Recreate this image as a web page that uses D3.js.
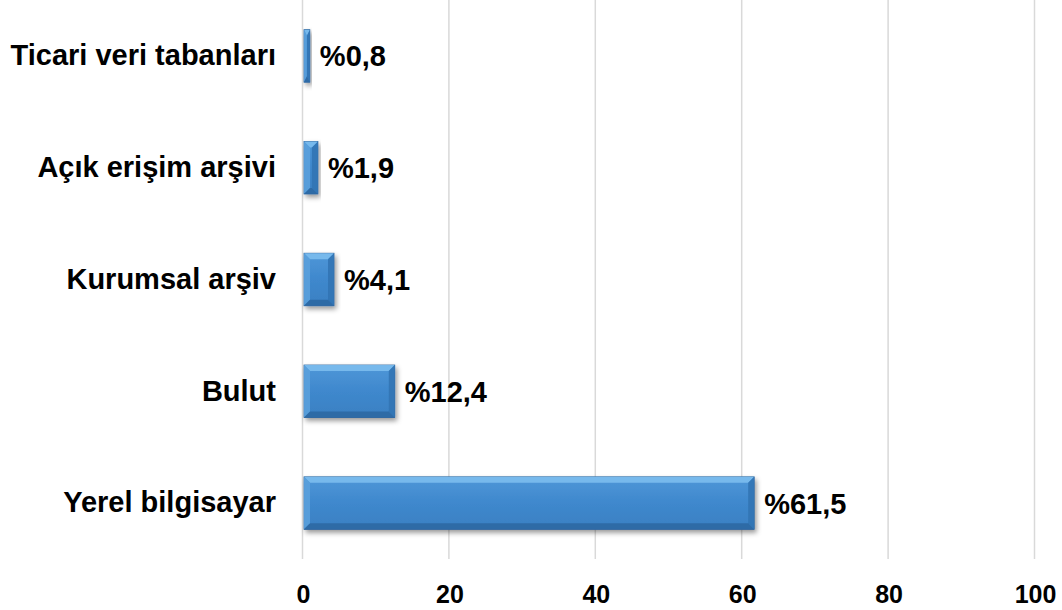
<!DOCTYPE html>
<html>
<head>
<meta charset="utf-8">
<script src="https://cdn.jsdelivr.net/npm/d3@7"></script>
<style>
  body { margin: 0; background: #fff; }
  text { font-family: "Liberation Sans", Arial, sans-serif; font-weight: bold; fill: #000; }
</style>
</head>
<body>
<div id="chart"></div>
<script>
var w = 1062;
var h = 610;

// data, top to bottom
var categories = ["Ticari veri tabanları", "Açık erişim arşivi", "Kurumsal arşiv", "Bulut", "Yerel bilgisayar"];
var values = [0.8, 1.9, 4.1, 12.4, 61.5];
var valueLabels = ["%0,8", "%1,9", "%4,1", "%12,4", "%61,5"];
var ticks = [0, 20, 40, 60, 80, 100];

var margin = { left: 303, right: 27, top: 0, bottom: 51 };

var svg = d3.select("#chart").append("svg")
  .attr("width", w)
  .attr("height", h);

var defs = svg.append("defs");

var grad = defs.append("linearGradient")
  .attr("id", "barGrad")
  .attr("x1", 0).attr("y1", 0).attr("x2", 0).attr("y2", 1);
grad.append("stop").attr("offset", "0%").attr("stop-color", "#4f97d8");
grad.append("stop").attr("offset", "50%").attr("stop-color", "#3f88cd");
grad.append("stop").attr("offset", "100%").attr("stop-color", "#3a80c2");

var shadow = defs.append("filter")
  .attr("id", "shadow")
  .attr("x", "-10%").attr("y", "-20%")
  .attr("width", "130%").attr("height", "160%");
shadow.append("feDropShadow")
  .attr("dx", 2).attr("dy", 3)
  .attr("stdDeviation", 2.5)
  .attr("flood-color", "#000")
  .attr("flood-opacity", 0.4);

var x = d3.scaleLinear()
  .domain([0, 100])
  .range([margin.left, w - margin.right]);

var y = d3.scaleBand()
  .domain(categories)
  .range([margin.top, h - margin.bottom])
  .paddingInner(0.53)
  .paddingOuter(0.265);

// gridlines
svg.append("g")
  .selectAll("line")
  .data(ticks)
  .enter()
  .append("line")
  .attr("x1", function(d) { return x(d) - 0.5; })
  .attr("x2", function(d) { return x(d) - 0.5; })
  .attr("y1", 0)
  .attr("y2", h - margin.bottom)
  .attr("stroke", "#d9d9d9")
  .attr("stroke-width", 1.5);

// x tick labels
var xAxis = d3.axisBottom(x).tickValues(ticks).tickSize(0).tickPadding(0);
var gx = svg.append("g")
  .attr("transform", "translate(0," + (h - 7) + ")")
  .call(xAxis);
gx.select(".domain").remove();
gx.selectAll("text")
  .attr("dy", 0)
  .style("font-size", "25px")
  .style("font-family", "Liberation Sans, Arial, sans-serif")
  .style("font-weight", "bold")
  .attr("fill", "#000");

// category labels
var yAxis = d3.axisLeft(y).tickSize(0).tickPadding(27);
var gy = svg.append("g")
  .attr("transform", "translate(" + margin.left + ",0)")
  .call(yAxis);
gy.select(".domain").remove();
gy.selectAll("text")
  .style("font-size", "29px")
  .style("font-family", "Liberation Sans, Arial, sans-serif")
  .style("font-weight", "bold")
  .attr("fill", "#000");

// bars
var bars = svg.append("g")
  .selectAll("g")
  .data(values)
  .enter()
  .append("g");

var bev = 6;

bars.append("rect")
  .attr("x", x(0) + 1)
  .attr("y", function(d, i) { return y(categories[i]); })
  .attr("width", function(d) { return x(d) - x(0); })
  .attr("height", y.bandwidth())
  .attr("fill", "url(#barGrad)")
  .attr("stroke", "#2c6199")
  .attr("stroke-width", 0.8)
  .attr("filter", "url(#shadow)");

function bevelPoly(d, i, side) {
  var x0 = x(0) + 1, x1 = x(d) + 1;
  var y0 = y(categories[i]), y1 = y0 + y.bandwidth();
  var b = Math.min(bev, (x1 - x0) / 2);
  var p;
  if (side === "top") p = [[x0, y0], [x1, y0], [x1 - b, y0 + bev], [x0 + b, y0 + bev]];
  if (side === "bottom") p = [[x0, y1], [x1, y1], [x1 - b, y1 - bev], [x0 + b, y1 - bev]];
  if (side === "right") p = [[x1, y0], [x1, y1], [x1 - b, y1 - bev], [x1 - b, y0 + bev]];
  if (side === "left") p = [[x0, y0], [x0, y1], [x0 + b, y1 - bev], [x0 + b, y0 + bev]];
  return p.map(function(q) { return q.join(","); }).join(" ");
}

var bevelColors = { top: "#7cbcee", left: "#5aa0dc", right: "#3274b4", bottom: "#2d68a3" };

["top", "left", "right", "bottom"].forEach(function(side) {
  bars.append("polygon")
    .attr("points", function(d, i) { return bevelPoly(d, i, side); })
    .attr("fill", bevelColors[side])
    .attr("opacity", 0.9);
});

// value labels
svg.append("g")
  .selectAll("text")
  .data(values)
  .enter()
  .append("text")
  .text(function(d, i) { return valueLabels[i]; })
  .attr("x", function(d) { return x(d) + 11; })
  .attr("y", function(d, i) { return y(categories[i]) + y.bandwidth() / 2; })
  .attr("dy", "0.36em")
  .style("font-size", "29px");
</script>
</body>
</html>
